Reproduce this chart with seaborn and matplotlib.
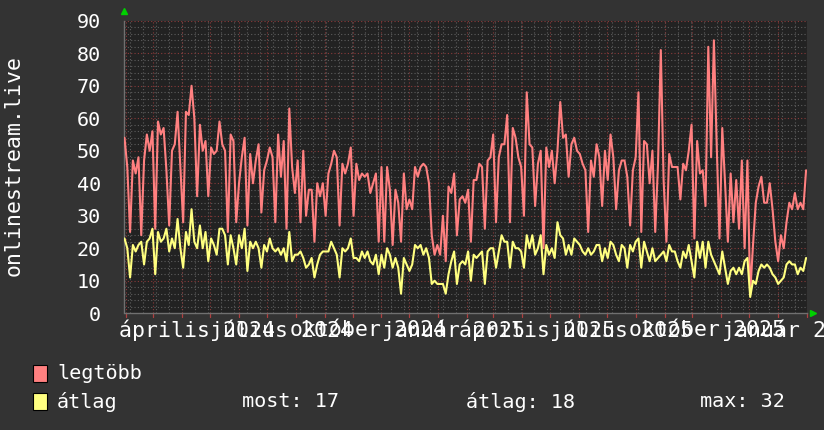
import numpy as np
import pandas as pd
import matplotlib
matplotlib.use("Agg")
import matplotlib.pyplot as plt
import matplotlib.dates as mdates
import matplotlib.transforms as mtransforms
from matplotlib.patches import Rectangle
import seaborn as sns

# ---------------- data ----------------
start_date = "2024-01-30"
step_days = 3

legtobb = [
    54, 45, 25, 47, 43, 48, 24, 47, 55, 50, 56, 26, 59, 55, 57, 44, 27, 50, 52, 62,
    45, 28, 62, 61, 70, 60, 36, 58, 50, 53, 36, 51, 49, 50, 59,
    52, 50, 25, 55, 53, 28, 40, 48, 54, 27, 49, 40, 47, 52, 31, 44, 47, 51, 48, 28,
    55, 42, 53, 26, 63, 45, 37, 47, 28, 50, 30, 38, 38, 22, 40,
    36, 40, 30, 43, 46, 50, 48, 27, 46, 43, 46, 51, 30, 46, 41, 43, 42, 43, 37, 40,
    43, 22, 45, 22, 45, 38, 21, 38, 34, 22, 43, 32, 35, 32, 45,
    42, 45, 46, 45, 40, 24, 18, 21, 18, 30, 16, 39, 37, 43, 24, 35, 36, 34, 38, 22,
    41, 41, 46, 45, 26, 47, 48, 55, 28, 48, 52, 52, 61, 28, 57,
    54, 48, 45, 30, 68, 52, 51, 33, 46, 50, 20, 51, 45, 50, 40, 50, 65, 54, 55, 42,
    52, 54, 50, 49, 46, 44, 25, 47, 42, 52, 48, 33, 50, 41, 55,
    48, 32, 44, 47, 47, 42, 27, 44, 48, 68, 25, 53, 52, 40, 50, 25, 46, 81, 41, 22,
    49, 45, 45, 45, 35, 46, 44, 50, 58, 23, 53, 43, 44, 33, 82,
    48, 84, 52, 23, 57, 40, 22, 43, 28, 41, 26, 47, 20, 47, 6, 21, 34, 39, 42, 34,
    34, 40, 32, 22, 16, 24, 20, 28, 34, 32, 37, 32, 34, 32, 44,
]

atlag = [
    23, 20, 11, 21, 19, 21, 22, 15, 22, 23, 26, 12, 25, 22, 23, 26, 19, 23, 20, 29,
    20, 14, 25, 21, 32, 22, 20, 27, 20, 25, 16, 23, 21, 18, 26,
    26, 24, 15, 24, 20, 15, 24, 20, 26, 13, 22, 20, 22, 20, 14, 21, 19, 23, 20, 19,
    20, 18, 20, 16, 25, 16, 18, 18, 19, 17, 14, 15, 17, 11, 15,
    18, 19, 19, 19, 22, 20, 18, 11, 20, 19, 20, 23, 17, 17, 16, 19, 17, 19, 16, 15,
    18, 12, 18, 14, 20, 18, 14, 17, 14, 6, 17, 15, 13, 15, 21,
    20, 21, 18, 20, 17, 9, 10, 9, 9, 9, 6, 12, 16, 19, 9, 15, 16, 15, 19, 10,
    18, 17, 18, 19, 9, 19, 20, 20, 14, 19, 24, 22, 22, 14, 22,
    20, 20, 19, 14, 24, 20, 24, 18, 20, 24, 12, 21, 18, 20, 17, 28, 24, 23, 18, 21,
    18, 23, 22, 21, 19, 18, 20, 18, 19, 21, 21, 16, 20, 17, 22,
    21, 18, 16, 21, 20, 14, 21, 19, 22, 23, 14, 22, 19, 16, 20, 16, 17, 18, 19, 16,
    21, 19, 19, 16, 14, 19, 17, 21, 16, 11, 22, 17, 22, 14, 22,
    18, 16, 14, 12, 19, 14, 9, 13, 14, 12, 14, 12, 16, 17, 5, 10, 9, 13, 15, 14,
    15, 14, 12, 11, 9, 10, 11, 15, 16, 15, 15, 12, 14, 13, 17,
]

series_names = ["legtöbb", "átlag"]
label_months = ["2024-04-01", "2024-07-01", "2024-10-01", "2025-01-01",
                "2025-04-01", "2025-07-01", "2025-10-01", "2026-01-01"]
label_texts = ["április 2024", "július 2024", "október 2024", "január 2025",
               "április 2025", "július 2025", "október 2025", "január 2026"]
y_ticks = [0, 10, 20, 30, 40, 50, 60, 70, 80, 90]
y_title = "onlinestream.live"
stat_texts = ["most: 17", "átlag: 18", "max: 32"]

# ---------------- style ----------------
OUTER_BG = "#333333"
PLOT_BG = "#222222"
RED = "#ff8080"
YELLOW = "#ffff80"
MINOR_GRID = "#5e5e5e"
MAJOR_GRID = "#8a3a3a"
TXT = "#ffffff"

sns.set_theme(style="dark")
plt.rcParams["font.family"] = ["DejaVu Sans Mono", "DejaVu Sans"]

W, H = 824, 430
fig = plt.figure(figsize=(W / 100, H / 100), dpi=100, facecolor=OUTER_BG)

left_px, right_px, top_px, bot_px = 124.5, 807.0, 20.8, 313.2
ax = fig.add_axes([left_px / W, 1 - bot_px / H, (right_px - left_px) / W, (bot_px - top_px) / H])
ax.set_facecolor(PLOT_BG)

dates = pd.date_range(start_date, periods=len(legtobb), freq=f"{step_days}D")
df = pd.DataFrame({"date": dates, series_names[0]: legtobb, series_names[1]: atlag})
long = df.melt("date", var_name="series", value_name="value")

x0 = pd.Timestamp(start_date)
x1 = x0 + pd.Timedelta(days=733)

# grid lines (drawn under data)
minor_y = np.arange(0, 91, 2)
for yv in minor_y:
    if yv % 10:
        ax.axhline(yv, color=MINOR_GRID, lw=0.8, ls=(0, (1, 2)), zorder=0)
week_lines = pd.date_range("2024-02-05", x1, freq="14D")
for d in week_lines:
    ax.axvline(d, color=MINOR_GRID, lw=0.8, ls=(0, (1, 2)), zorder=0)
for yv in y_ticks[1:]:
    ax.axhline(yv, color=MAJOR_GRID, lw=0.8, ls=(0, (1, 2)), zorder=0.5)
month_lines = pd.date_range("2024-02-01", x1, freq="MS")
for d in month_lines:
    ax.axvline(d, color=MAJOR_GRID, lw=0.8, ls=(0, (1, 2)), zorder=0.5)

sns.lineplot(data=long, x="date", y="value", hue="series",
             palette={series_names[0]: RED, series_names[1]: YELLOW},
             linewidth=1.5, ax=ax, legend=False, zorder=3)

ax.set_xlim(x0, x1)
ax.set_ylim(0, 90)
ax.set_yticks(y_ticks)
ax.set_yticklabels([str(v) for v in y_ticks], color=TXT, fontsize=14.5)
ax.tick_params(axis="y", length=0, pad=17)
ax.set_xticks([])
ax.set_xlabel("")
ax.set_ylabel("")
ax.grid(False)
for s in ["top", "right"]:
    ax.spines[s].set_visible(False)
for s in ["left", "bottom"]:
    ax.spines[s].set_color("#707070")
    ax.spines[s].set_linewidth(1.0)

# small tick marks below the x axis at month starts
for d in month_lines:
    ax.plot([mdates.date2num(d)] * 2, [0, -0.012], color="#b04040", lw=0.9,
            transform=mtransforms.blended_transform_factory(ax.transData, ax.transAxes),
            clip_on=False)

# x labels centred on the middle of the labelled month
trans = mtransforms.blended_transform_factory(ax.transData, ax.transAxes)
for m, t in zip(label_months, label_texts):
    pos = pd.Timestamp(m) + pd.Timedelta(days=16)
    ax.text(mdates.date2num(pos), -0.057, t, transform=trans, ha="center", va="center",
            color=TXT, fontsize=15.5, clip_on=False)

# green arrows at axis ends
ax.plot([0], [1.035], marker="^", color="#00d000", ms=5, transform=ax.transAxes, clip_on=False)
ax.plot([1.0088], [0], marker=">", color="#00d000", ms=5, transform=ax.transAxes, clip_on=False)

# y axis title
fig.text(14 / W, 1 - 166 / H, y_title, rotation=90, ha="center", va="center",
         color=TXT, fontsize=15.5)

# legend
box_colors = [RED, YELLOW]
box_tops = [365, 393]
for c, top, name in zip(box_colors, box_tops, series_names):
    fig.patches.append(Rectangle((33 / W, 1 - (top + 17) / H), 14 / W, 17 / H,
                                 transform=fig.transFigure, facecolor=c,
                                 edgecolor="#000000", lw=0.8))
    fig.text(57 / W, 1 - (top + 8.5) / H, name, ha="left", va="center",
             color=TXT, fontsize=14.5)
for x_px, t in zip([242, 466, 700], stat_texts):
    fig.text(x_px / W, 1 - 401.5 / H, t, ha="left", va="center", color=TXT, fontsize=14.5)

fig.savefig("out.png", dpi=100, facecolor=OUTER_BG)
